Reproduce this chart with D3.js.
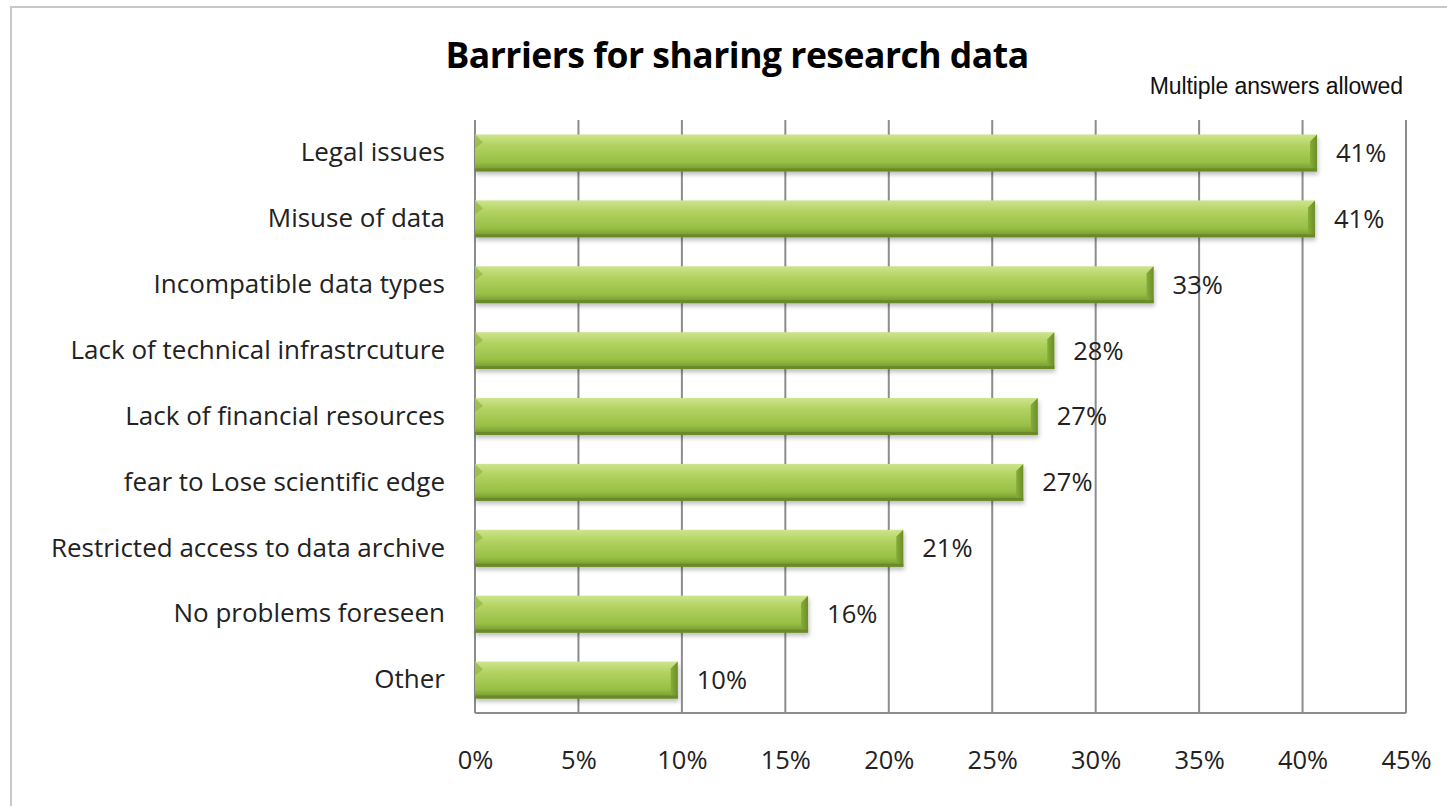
<!DOCTYPE html>
<html>
<head>
<meta charset="utf-8">
<script src="https://cdn.jsdelivr.net/npm/d3@7"></script>
<style>
  body { margin: 0; background: #fff; }
  svg { display: block; }
</style>
</head>
<body>
<div id="chart"></div>
<script>
var categories = ['Legal issues', 'Misuse of data', 'Incompatible data types',
        'Lack of technical infrastrcuture', 'Lack of financial resources',
        'fear to Lose scientific edge', 'Restricted access to data archive',
        'No problems foreseen', 'Other'],
    values = [40.7, 40.6, 32.8, 28.0, 27.2, 26.5, 20.7, 16.1, 9.8],
    labels = ['41%', '41%', '33%', '28%', '27%', '27%', '21%', '16%', '10%'],
    ticks = [0, 5, 10, 15, 20, 25, 30, 35, 40, 45];

var width = 1447, height = 806,
    margin = { top: 120, right: 41, bottom: 93, left: 475 },
    font = '"Open Sans", Lato, sans-serif';

var svg = d3.select('#chart').append('svg')
    .attr('width', width)
    .attr('height', height);

// Gradients
var defs = svg.append('defs');
var grad = defs.append('linearGradient')
    .attr('id', 'barGrad')
    .attr('x1', 0).attr('y1', 0).attr('x2', 0).attr('y2', 1);
grad.append('stop').attr('offset', '0%').attr('stop-color', '#cde48c');
grad.append('stop').attr('offset', '30%').attr('stop-color', '#b2d261');
grad.append('stop').attr('offset', '75%').attr('stop-color', '#98bf45');
grad.append('stop').attr('offset', '100%').attr('stop-color', '#6f9229');

var endGrad = defs.append('linearGradient')
    .attr('id', 'endGrad')
    .attr('x1', 0).attr('y1', 0).attr('x2', 1).attr('y2', 0);
endGrad.append('stop').attr('offset', '0%').attr('stop-color', '#86ad38');
endGrad.append('stop').attr('offset', '100%').attr('stop-color', '#6c8e2a');

defs.append('filter').attr('id', 'shadow')
    .attr('x', '-5%').attr('y', '-20%').attr('width', '110%').attr('height', '160%')
    .append('feDropShadow')
    .attr('dx', 1).attr('dy', 3).attr('stdDeviation', 2)
    .attr('flood-color', '#000').attr('flood-opacity', 0.25);

// Frame
svg.append('path')
    .attr('d', 'M11,' + (height + 5) + 'V7H' + (width + 5))
    .attr('fill', 'none')
    .attr('stroke', '#c8c8c8')
    .attr('stroke-width', 2);

var x = d3.scaleLinear()
    .domain([0, 45])
    .range([margin.left, width - margin.right]);

var y = d3.scaleBand()
    .domain(categories)
    .range([margin.top, height - margin.bottom])
    .paddingInner(0.44)
    .paddingOuter(0.22);

// Gridlines
svg.append('g')
    .selectAll('line')
    .data(ticks)
    .join('line')
    .attr('x1', d => x(d)).attr('x2', d => x(d))
    .attr('y1', margin.top).attr('y2', height - margin.bottom)
    .attr('stroke', '#8c8c8c')
    .attr('stroke-width', 2);

// Bottom axis line
svg.append('line')
    .attr('x1', x(0)).attr('x2', x(45))
    .attr('y1', height - margin.bottom).attr('y2', height - margin.bottom)
    .attr('stroke', '#8c8c8c')
    .attr('stroke-width', 2);

// Tick labels
var xAxis = svg.append('g')
    .attr('transform', 'translate(0,' + (height - margin.bottom) + ')')
    .call(d3.axisBottom(x).tickValues(ticks).tickFormat(d => d + '%').tickSize(0).tickPadding(38));
xAxis.select('.domain').remove();
xAxis.selectAll('text')
    .attr('font-family', font)
    .attr('font-size', 25.5)
    .attr('fill', '#222');

// Category labels
var yAxis = svg.append('g')
    .attr('transform', 'translate(' + margin.left + ',0)')
    .call(d3.axisLeft(y).tickSize(0).tickPadding(30));
yAxis.select('.domain').remove();
yAxis.selectAll('text')
    .attr('font-family', font)
    .attr('font-size', 26)
    .attr('fill', '#222');

// Bars
var bars = svg.append('g')
    .selectAll('g')
    .data(categories)
    .join('g')
    .attr('filter', 'url(#shadow)');

bars.append('rect')
    .attr('x', x(0))
    .attr('y', d => y(d))
    .attr('width', (d, i) => x(values[i]) - x(0))
    .attr('height', y.bandwidth())
    .attr('fill', 'url(#barGrad)');

// Right end bevel
bars.append('path')
    .attr('d', (d, i) => {
        var x1 = x(values[i]), y0 = y(d), h = y.bandwidth(), b = 7;
        return 'M' + (x1 - b) + ',' + (y0 + b) + 'L' + x1 + ',' + y0 +
            'L' + x1 + ',' + (y0 + h) + 'L' + (x1 - b) + ',' + (y0 + h - 3) + 'Z';
    })
    .attr('fill', 'url(#endGrad)');

// Left end bevel
bars.append('path')
    .attr('d', d => {
        var x0 = x(0), y0 = y(d), b = 8;
        return 'M' + x0 + ',' + y0 + 'L' + (x0 + b) + ',' + (y0 + b) +
            'L' + x0 + ',' + (y0 + b + 6) + 'Z';
    })
    .attr('fill', '#8fb640')
    .attr('opacity', 0.7);

// Bottom edge
bars.append('rect')
    .attr('x', x(0))
    .attr('y', d => y(d) + y.bandwidth() - 3)
    .attr('width', (d, i) => x(values[i]) - x(0))
    .attr('height', 3)
    .attr('fill', '#6a8a2a');

// Value labels
svg.append('g')
    .selectAll('text')
    .data(categories)
    .join('text')
    .attr('x', (d, i) => x(values[i]) + 19)
    .attr('y', d => y(d) + y.bandwidth() / 2)
    .attr('dy', '0.35em')
    .attr('font-family', font)
    .attr('font-size', 25.5)
    .attr('fill', '#222')
    .text((d, i) => labels[i]);

// Title
svg.append('text')
    .attr('x', 737)
    .attr('y', 68)
    .attr('text-anchor', 'middle')
    .attr('font-family', font)
    .attr('font-weight', 'bold')
    .attr('font-size', 35.5)
    .attr('letter-spacing', -0.5)
    .attr('fill', '#000')
    .text('Barriers for sharing research data');

// Note
svg.append('text')
    .attr('x', 1403)
    .attr('y', 94)
    .attr('text-anchor', 'end')
    .attr('font-family', '"Liberation Sans", Arial, sans-serif')
    .attr('font-size', 23)
    .attr('letter-spacing', -0.1)
    .attr('fill', '#111')
    .text('Multiple answers allowed');
</script>
</body>
</html>
